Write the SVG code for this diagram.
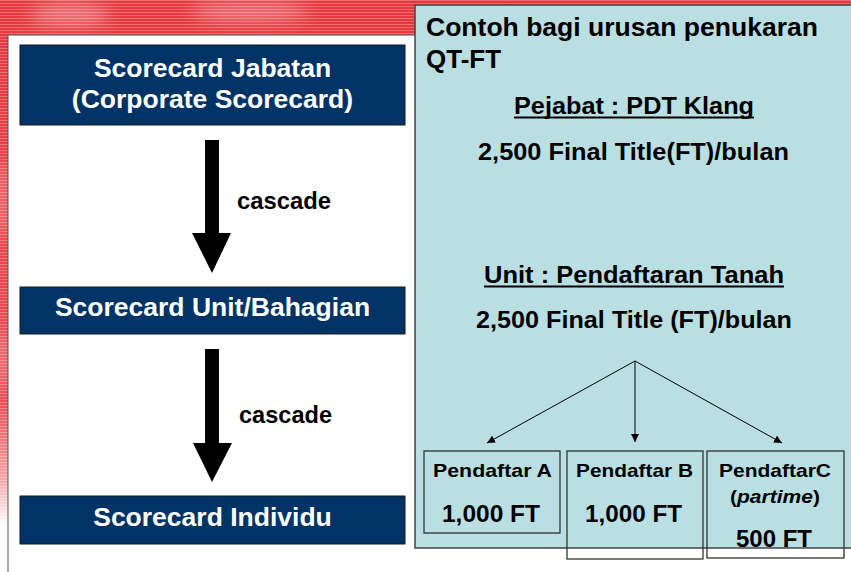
<svg xmlns="http://www.w3.org/2000/svg" width="851" height="572" viewBox="0 0 851 572">
<defs>
<style>
.t{font-family:"Liberation Sans",Arial,sans-serif;font-weight:bold;}
.w{fill:#ffffff;font-size:26.5px;}
.k{fill:#000000;}
.nb{fill:#003366;stroke:#1a1a1a;stroke-width:1;}
.sb{fill:none;stroke:#333333;stroke-width:1.3;}
.ln{stroke:#000;stroke-width:1;fill:none;}
</style>
<linearGradient id="bg" gradientUnits="userSpaceOnUse" x1="0" y1="0" x2="0" y2="572">
<stop offset="0" stop-color="#E8363C"/>
<stop offset="0.7" stop-color="#EA4D52"/>
<stop offset="0.84" stop-color="#F4A9AB"/>
<stop offset="0.92" stop-color="#ffffff"/>
</linearGradient>
<pattern id="stripes" width="4" height="3" patternUnits="userSpaceOnUse">
<rect x="0" y="0" width="4" height="1" fill="#ffffff" opacity="0.28"/>
</pattern>
<filter id="blur" x="-50%" y="-50%" width="200%" height="200%"><feGaussianBlur stdDeviation="8"/></filter>
<marker id="ah" viewBox="0 0 10 10" refX="10" refY="5" markerWidth="8" markerHeight="8" markerUnits="userSpaceOnUse" orient="auto">
<path d="M0,0 L10,5 L0,10 z" fill="#000"/>
</marker>
</defs>

<g id="background">
<rect x="0" y="0" width="851" height="572" fill="url(#bg)"/>
<g filter="url(#blur)" fill="#ffffff" opacity="0.3">
<ellipse cx="70" cy="15" rx="40" ry="12"/>
<ellipse cx="250" cy="12" rx="60" ry="10"/>
<ellipse cx="2" cy="200" rx="6" ry="40"/>
<ellipse cx="2" cy="360" rx="6" ry="30"/>
</g>
<rect x="0" y="0" width="851" height="572" fill="url(#stripes)"/>
</g>

<g id="left-panel">
<rect x="8" y="35" width="860" height="545" fill="#ffffff" stroke="#555555" stroke-width="1"/>
</g>

<g id="node-jabatan">
<rect class="nb" x="20" y="45" width="385" height="80"/>
<text class="t w" x="212.5" y="77" text-anchor="middle">Scorecard Jabatan</text>
<text class="t w" x="212.5" y="108" text-anchor="middle">(Corporate Scorecard)</text>
</g>
<g id="node-unit">
<rect class="nb" x="20" y="287" width="385" height="47"/>
<text class="t w" x="212.5" y="316" text-anchor="middle">Scorecard Unit/Bahagian</text>
</g>
<g id="node-individu">
<rect class="nb" x="20" y="496" width="385" height="48"/>
<text class="t w" x="212.5" y="526" text-anchor="middle">Scorecard Individu</text>
</g>

<g id="right-panel">
<rect x="415" y="5" width="445" height="543" fill="#BADFE3" stroke="#444444" stroke-width="1.5"/>
<text class="t k" x="426" y="36" font-size="26" textLength="392" lengthAdjust="spacingAndGlyphs">Contoh bagi urusan penukaran</text>
<text class="t k" x="426" y="68" font-size="26" textLength="75" lengthAdjust="spacingAndGlyphs">QT-FT</text>
</g>

<g id="node-pejabat">
<text class="t k" x="514" y="114" font-size="24" textLength="240" lengthAdjust="spacingAndGlyphs">Pejabat : PDT Klang</text>
<rect x="514" y="116.5" width="240" height="2" fill="#000"/>
<text class="t k" x="478" y="160" font-size="24" textLength="311" lengthAdjust="spacingAndGlyphs">2,500 Final Title(FT)/bulan</text>
</g>

<g id="node-unit-pt">
<text class="t k" x="484" y="283" font-size="24" textLength="300" lengthAdjust="spacingAndGlyphs">Unit : Pendaftaran Tanah</text>
<rect x="484" y="285.5" width="300" height="2" fill="#000"/>
<text class="t k" x="476" y="328" font-size="24" textLength="316" lengthAdjust="spacingAndGlyphs">2,500 Final Title (FT)/bulan</text>
</g>

<g id="node-pendaftar-a">
<rect class="sb" x="424" y="451" width="136" height="82"/>
<text class="t k" x="433" y="477" font-size="19" textLength="119" lengthAdjust="spacingAndGlyphs">Pendaftar A</text>
<text class="t k" x="442" y="522" font-size="24" textLength="98" lengthAdjust="spacingAndGlyphs">1,000 FT</text>
</g>
<g id="node-pendaftar-b">
<rect class="sb" x="567" y="451" width="136" height="108"/>
<text class="t k" x="576" y="477" font-size="19" textLength="117" lengthAdjust="spacingAndGlyphs">Pendaftar B</text>
<text class="t k" x="585" y="522" font-size="24" textLength="97" lengthAdjust="spacingAndGlyphs">1,000 FT</text>
</g>
<g id="node-pendaftar-c">
<rect class="sb" x="707" y="451" width="137" height="107"/>
<text class="t k" x="719" y="477" font-size="19" textLength="112" lengthAdjust="spacingAndGlyphs">PendaftarC</text>
<text class="t k" x="730" y="503" font-size="19" textLength="90" lengthAdjust="spacingAndGlyphs">(<tspan font-style="italic">partime</tspan>)</text>
<text class="t k" x="736" y="547" font-size="24" textLength="76" lengthAdjust="spacingAndGlyphs">500 FT</text>
</g>

<g id="connectors">
<polygon points="205,140 219,140 219,233 231,233 212,273 192,233 205,233" fill="#000"/>
<text class="t k" x="237" y="209" font-size="24" textLength="94" lengthAdjust="spacingAndGlyphs">cascade</text>
<polygon points="205,349 219,349 219,443 232,443 212,482 193,443 205,443" fill="#000"/>
<text class="t k" x="239" y="423" font-size="24" textLength="93" lengthAdjust="spacingAndGlyphs">cascade</text>
<line class="ln" x1="635" y1="361" x2="487" y2="443" marker-end="url(#ah)"/>
<line class="ln" x1="635" y1="361" x2="635" y2="442" marker-end="url(#ah)"/>
<line class="ln" x1="635" y1="361" x2="782" y2="443" marker-end="url(#ah)"/>
</g>
</svg>
